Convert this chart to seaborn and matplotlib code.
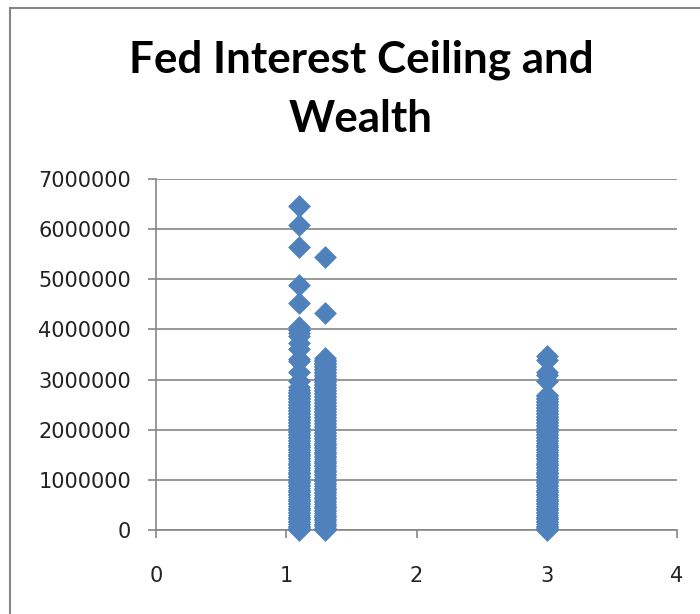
import matplotlib
matplotlib.use("Agg")
import matplotlib.pyplot as plt
import seaborn as sns
import pandas as pd
from matplotlib.patches import Rectangle

# ---------------- data ----------------
title_lines = ["Fed Interest Ceiling and", "Wealth"]
x_ticks = [0, 1, 2, 3, 4]
y_ticks = [0, 1000000, 2000000, 3000000, 4000000, 5000000, 6000000, 7000000]

ceiling_a = 1.1
wealth_a = [6460000, 6080000, 5640000, 4890000, 4530000, 4050000, 3990000,
            3930000, 3870000, 3730000, 3600000, 3420000, 3380000, 3150000,
            2980000, 2850000, 2800000,
            2760000, 2730000, 2700000, 2665000, 2640000, 2605000, 2580000,
            2550000, 2515000, 2490000, 2460000, 2425000, 2400000, 2370000,
            2335000, 2310000, 2280000, 2245000, 2220000, 2190000, 2155000,
            2130000, 2100000, 2065000, 2040000, 2010000, 1975000, 1950000,
            1920000, 1885000, 1860000, 1830000, 1795000, 1770000, 1740000,
            1705000, 1680000, 1650000, 1615000, 1590000, 1560000, 1525000,
            1500000, 1470000, 1435000, 1410000, 1380000, 1345000, 1320000,
            1290000, 1255000, 1230000, 1200000, 1165000, 1140000, 1110000,
            1075000, 1050000, 1020000, 985000, 960000, 930000, 895000,
            870000, 840000, 805000, 780000, 750000, 715000, 690000, 660000,
            625000, 600000, 570000, 535000, 510000, 480000, 445000, 420000,
            390000, 355000, 330000, 300000, 265000, 240000, 210000, 175000,
            150000, 120000, 85000, 60000, 30000, 10000, 0]

ceiling_b = 1.3
wealth_b = [5440000, 4330000, 3430000, 3400000, 3365000, 3340000, 3310000,
            3275000, 3250000, 3220000, 3185000, 3160000, 3130000, 3095000,
            3070000, 3040000, 3005000, 2980000, 2950000, 2915000, 2890000,
            2860000, 2825000, 2800000, 2770000, 2735000, 2710000, 2680000,
            2645000, 2620000, 2590000, 2555000, 2530000, 2500000, 2465000,
            2440000, 2410000, 2375000, 2350000, 2320000, 2285000, 2260000,
            2230000, 2195000, 2170000, 2140000, 2105000, 2080000, 2050000,
            2015000, 1990000, 1960000, 1925000, 1900000, 1870000, 1835000,
            1810000, 1780000, 1745000, 1720000, 1690000, 1655000, 1630000,
            1600000, 1565000, 1540000, 1510000, 1475000, 1450000, 1420000,
            1385000, 1360000, 1330000, 1295000, 1270000, 1240000, 1205000,
            1180000, 1150000, 1115000, 1090000, 1060000, 1025000, 1000000,
            970000, 935000, 910000, 880000, 845000, 820000, 790000, 755000,
            730000, 700000, 665000, 640000, 610000, 575000, 550000, 520000,
            485000, 460000, 430000, 395000, 370000, 340000, 305000, 280000,
            250000, 215000, 190000, 160000, 125000, 100000, 70000, 40000,
            15000, 0]

ceiling_c = 3.0
wealth_c = [3470000, 3400000, 3150000, 3090000, 2980000, 2700000, 2670000,
            2640000, 2605000, 2580000, 2550000, 2515000, 2490000, 2460000,
            2425000, 2400000, 2370000, 2335000, 2310000, 2280000, 2245000,
            2220000, 2190000, 2155000, 2130000, 2100000, 2065000, 2040000,
            2010000, 1975000, 1950000, 1920000, 1885000, 1860000, 1830000,
            1795000, 1770000, 1740000, 1705000, 1680000, 1650000, 1615000,
            1590000, 1560000, 1525000, 1500000, 1470000, 1435000, 1410000,
            1380000, 1345000, 1320000, 1290000, 1255000, 1230000, 1200000,
            1165000, 1140000, 1110000, 1075000, 1050000, 1020000, 985000,
            960000, 930000, 895000, 870000, 840000, 805000, 780000, 750000,
            715000, 690000, 660000, 625000, 600000, 570000, 535000, 510000,
            480000, 445000, 420000, 390000, 355000, 330000, 300000, 265000,
            240000, 210000, 175000, 150000, 120000, 85000, 60000, 30000,
            10000, 0]

df = pd.DataFrame({
    "ceiling": [ceiling_a] * len(wealth_a) + [ceiling_b] * len(wealth_b)
               + [ceiling_c] * len(wealth_c),
    "wealth": wealth_a + wealth_b + wealth_c,
})

# ---------------- plot ----------------
sns.set_theme(style="white")
plt.rcParams["font.family"] = ["DejaVu Sans"]

W, H = 700, 614
fig = plt.figure(figsize=(7, 6.14), dpi=100)
ax = fig.add_axes([156 / W, 1 - 530 / H, (677 - 156) / W, (530 - 179) / H])

grey = "#868686"
blue = "#4F81BD"

sns.scatterplot(data=df, x="ceiling", y="wealth", marker="D", s=135,
                color=blue, linewidth=0, ax=ax, legend=False, zorder=3,
                clip_on=False)

ax.set_xlim(0, 4)
ax.set_ylim(0, 7000000)
ax.set_xticks(x_ticks)
ax.set_yticks(y_ticks)
ax.set_xticklabels([str(t) for t in x_ticks])
ax.set_yticklabels([str(t) for t in y_ticks])
ax.set_xlabel("")
ax.set_ylabel("")

ax.yaxis.grid(True, color=grey, linewidth=1.2, zorder=0)
ax.xaxis.grid(False)
ax.set_axisbelow(True)
for side in ["top", "right"]:
    ax.spines[side].set_visible(False)
for side in ["left", "bottom"]:
    ax.spines[side].set_color(grey)
    ax.spines[side].set_linewidth(1.2)

ax.tick_params(axis="y", which="major", direction="out", length=6, width=1.2,
               color=grey, pad=12, labelsize=15, labelcolor="#222222", left=True)
ax.tick_params(axis="x", which="major", direction="out", length=6, width=1.2,
               color=grey, pad=20, labelsize=15, labelcolor="#222222", bottom=True)

# title (two lines, Excel-like bold)
tfam = ["Lato", "DejaVu Sans"]
t1 = fig.text(361 / W, 1 - 73 / H, title_lines[0], ha="center", va="baseline",
              fontsize=30, fontweight="bold", family=tfam, color="#000000")
t2 = fig.text(361 / W, 1 - 132 / H, title_lines[1], ha="center", va="baseline",
              fontsize=30, fontweight="bold", family=tfam, color="#000000")
fig.canvas.draw()
w = t1.get_window_extent().width
scale = 464.0 / w
t1.set_fontsize(30 * scale)
t2.set_fontsize(30 * scale)

# chart-area border (left and top visible, rest off-canvas)
fig.patches.append(Rectangle((10 / W, -0.2), 1.2, 1 - 8 / H + 0.2,
                             transform=fig.transFigure, fill=False,
                             edgecolor=grey, linewidth=1.5))

fig.savefig("out.png", dpi=100)
